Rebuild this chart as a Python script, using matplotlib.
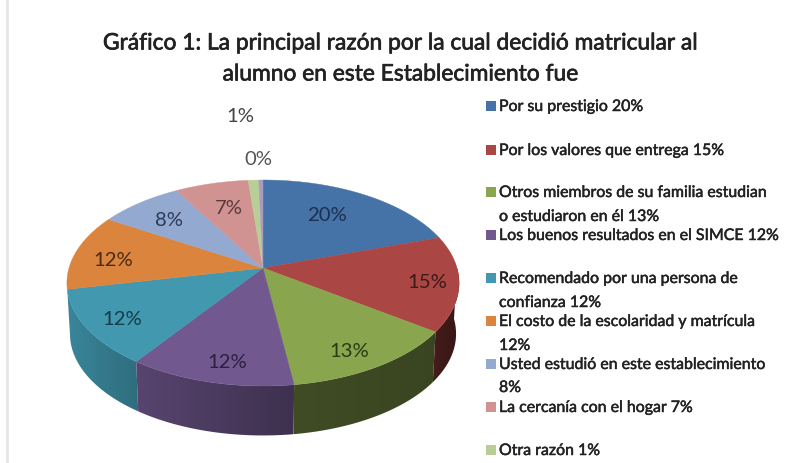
import numpy as np
import matplotlib
matplotlib.use("Agg")
import matplotlib.pyplot as plt
import matplotlib.patheffects as pe
from matplotlib.colors import to_rgb
from matplotlib.patches import Polygon

# ---- data ----
title_lines = ["Gráfico 1: La principal razón por la cual decidió matricular al",
               "alumno en este Establecimiento fue"]
values = [20, 15, 13, 12, 12, 12, 8, 7, 1, 0.4]
legend_lines = [["Por su prestigio 20%"],
                ["Por los valores que entrega 15%"],
                ["Otros miembros de su familia estudian", "o estudiaron en él 13%"],
                ["Los buenos resultados en el SIMCE 12%"],
                ["Recomendado por una persona de", "confianza 12%"],
                ["El costo de la escolaridad y matrícula", "12%"],
                ["Usted estudió en este establecimiento", "8%"],
                ["La cercanía con el hogar 7%"],
                ["Otra razón 1%"]]

# ---- style / layout ----
colors = ["#4572A7", "#AA4643", "#89A54E", "#71588F", "#4198AF",
          "#DB843D", "#93A9CF", "#D19392", "#B9CD96", "#A99BBD"]
label_colors = ["#1c3050", "#3c1a1a", "#2a3a14", "#2c1f40", "#153c48",
                "#4a2a10", "#2c3a58", "#5a3a3a", "#444444", "#555555"]
label_xy = [(327, 216), (427, 283), (349, 352), (227, 363), (122, 320),
            (113, 261), (169, 221), (229, 209), (240, 117), (258, 160)]
legend_y = [[108], [152], [194, 218], [237], [280, 304], [323, 347], [366, 389], [409], [452]]
FONT = "Lato"
cx, cy, a, b, k = 263, 269, 194, 100.8, 0.1456
cy2, a2, b2 = 320, 191, 99.5
# wall slice index -> brightness at its left and right end
wall_shade = {4: (0.88, 0.72), 3: (0.78, 0.55), 2: (0.46, 0.42), 1: (0.40, 0.32)}


def project(theta, cy_=cy, a_=a, b_=b):
    X, Y = np.sin(theta), -np.cos(theta)
    w = 1 - k * Y
    return cx + a_ * X / w, cy_ + b_ * Y / w


fig = plt.figure(figsize=(7.87, 4.64), dpi=100, facecolor="white")
ax = fig.add_axes([0, 0, 1, 1])
ax.axis("off")

v = np.array(values, dtype=float)
edges = np.concatenate([[0], np.cumsum(v)]) / v.sum() * 2 * np.pi

# side wall: a left-to-right shaded image clipped to each slice's wall
for i, (s_left, s_right) in wall_shade.items():
    t0, t1 = max(edges[i], np.pi / 2), min(edges[i + 1], 3 * np.pi / 2)
    ts = np.linspace(t0, t1, 80)
    xs0, ys0 = project(ts)
    xs1, ys1 = project(ts[::-1], cy2, a2, b2)
    poly = Polygon(np.c_[np.r_[xs0, xs1], np.r_[ys0, ys1]], closed=True,
                   facecolor="none", edgecolor="none", transform=ax.transData)
    ax.add_patch(poly)
    shade = np.linspace(s_left, s_right, 200)
    grad = np.array(to_rgb(colors[i]))[None, None, :] * shade[None, :, None]
    all_x = np.r_[xs0, xs1]
    im = ax.imshow(grad, extent=(all_x.min(), all_x.max(), 464, 0), aspect="auto", zorder=2,
                   interpolation="bilinear")
    im.set_clip_path(poly)

# top face
for i, col in enumerate(colors):
    ts = np.linspace(edges[i], edges[i + 1], max(3, int((edges[i + 1] - edges[i]) * 80)))
    xs, ys = project(ts)
    ax.fill(np.r_[cx, xs], np.r_[cy, ys], color=col, lw=0.3, zorder=3)

ax.set_xlim(0, 787)
ax.set_ylim(464, 0)

# faint frame line at the left
ax.axvline(7, color="#e6e6e6", lw=2, zorder=1)

# data labels
for val, xy, c in zip(values, label_xy, label_colors):
    ax.text(xy[0], xy[1], f"{val:.0f}%", ha="center", va="center", color=c,
            fontsize=14.6, family=FONT, zorder=5)

# title
thick = [pe.withStroke(linewidth=0.5, foreground="#222222")]
for line, y in zip(title_lines, [44, 75]):
    ax.text(401, y, line, ha="center", va="center", fontsize=16.4, color="#222222",
            family=FONT, zorder=5, path_effects=thick)

# legend
thin = [pe.withStroke(linewidth=0.35, foreground="#222222")]
for lines, ys, col in zip(legend_lines, legend_y, colors):
    ax.scatter([491], [ys[0] - 1], marker="s", s=48, color=col, linewidths=0, zorder=5)
    for line, y in zip(lines, ys):
        ax.text(499, y, line, ha="left", va="center", fontsize=11.45, color="#222222",
                family=FONT, zorder=5, path_effects=thin)

fig.savefig("out.png", dpi=100)
